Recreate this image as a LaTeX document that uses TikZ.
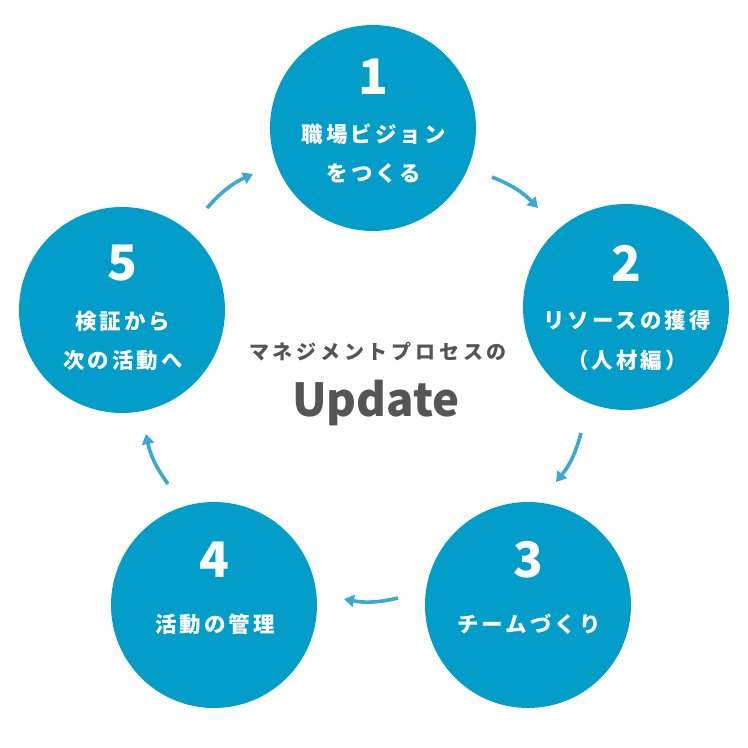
\documentclass[tikz,border=0pt]{standalone}
\usepackage{fontspec}
\usetikzlibrary{arrows.meta}
\newfontfamily\jp{Noto Sans CJK JP}
\definecolor{circblue}{RGB}{2,158,201}
\definecolor{arrblue}{RGB}{58,170,213}
\definecolor{txtgray}{RGB}{85,85,85}
\begin{document}
\begin{tikzpicture}[x=1pt,y=1pt,
  circ/.style={circle,fill=circblue,minimum size=206pt,inner sep=0pt},
  num/.style={text=white,font=\jp\bfseries\fontsize{49}{52}\selectfont,inner sep=0pt},
  lbl/.style={text=white,font=\jp\bfseries\fontsize{21.5}{24}\selectfont\addfontfeatures{LetterSpace=14},inner sep=0pt},
  flow/.style={draw=arrblue,line width=3.6pt,-{Triangle[length=10pt,width=12pt]},bend left=12}]
\useasboundingbox (0,0) rectangle (748,-748);
\fill[white] (0,0) rectangle (748,-748);
% circles
\node[circ] (c1) at (373,-128) {};
\node[circ] (c2) at (626,-307) {};
\node[circ] (c3) at (528,-605) {};
\node[circ] (c4) at (214,-605) {};
\node[circ] (c5) at (122,-310) {};
% numbers and labels
\node[num] (n1) at (373,-77) {1};
\node[lbl] (l1a) at (374,-134) {職場ビジョン};
\node[lbl] (l1b) at (374,-173) {をつくる};
\node[num] (n2) at (626,-263) {2};
\node[lbl] (l2a) at (627,-320) {リソースの獲得};
\node[lbl] (l2b) at (627,-360) {（人材編）};
\node[num] (n3) at (528,-560) {3};
\node[lbl] (l3) at (529,-624) {チームづくり};
\node[num] (n4) at (214,-560) {4};
\node[lbl] (l4) at (215,-624) {活動の管理};
\node[num] (n5) at (122,-263) {5};
\node[lbl] (l5a) at (123,-321) {検証から};
\node[lbl] (l5b) at (123,-360) {次の活動へ};
% centre text
\node[text=txtgray,font=\jp\bfseries\fontsize{20}{22}\selectfont\addfontfeatures{LetterSpace=19},inner sep=0pt] (sub) at (378,-352) {マネジメントプロセスの};
\node[text=txtgray,font=\jp\bfseries\fontsize{45.5}{50}\selectfont,inner sep=0pt,anchor=base] (upd) at (376,-416) {Update};
% arrows
\coordinate (a1s) at (492,-177); \coordinate (a1e) at (538,-208);
\coordinate (a2s) at (581,-433); \coordinate (a2e) at (556,-482);
\coordinate (a3s) at (398,-598); \coordinate (a3e) at (344,-599);
\coordinate (a4s) at (168,-484); \coordinate (a4e) at (146,-434);
\coordinate (a5s) at (207,-208); \coordinate (a5e) at (253,-174);
\draw[flow] (a1s) to (a1e);
\draw[flow] (a2s) to (a2e);
\draw[flow] (a3s) to (a3e);
\draw[flow] (a4s) to (a4e);
\draw[flow] (a5s) to (a5e);
\end{tikzpicture}
\end{document}
